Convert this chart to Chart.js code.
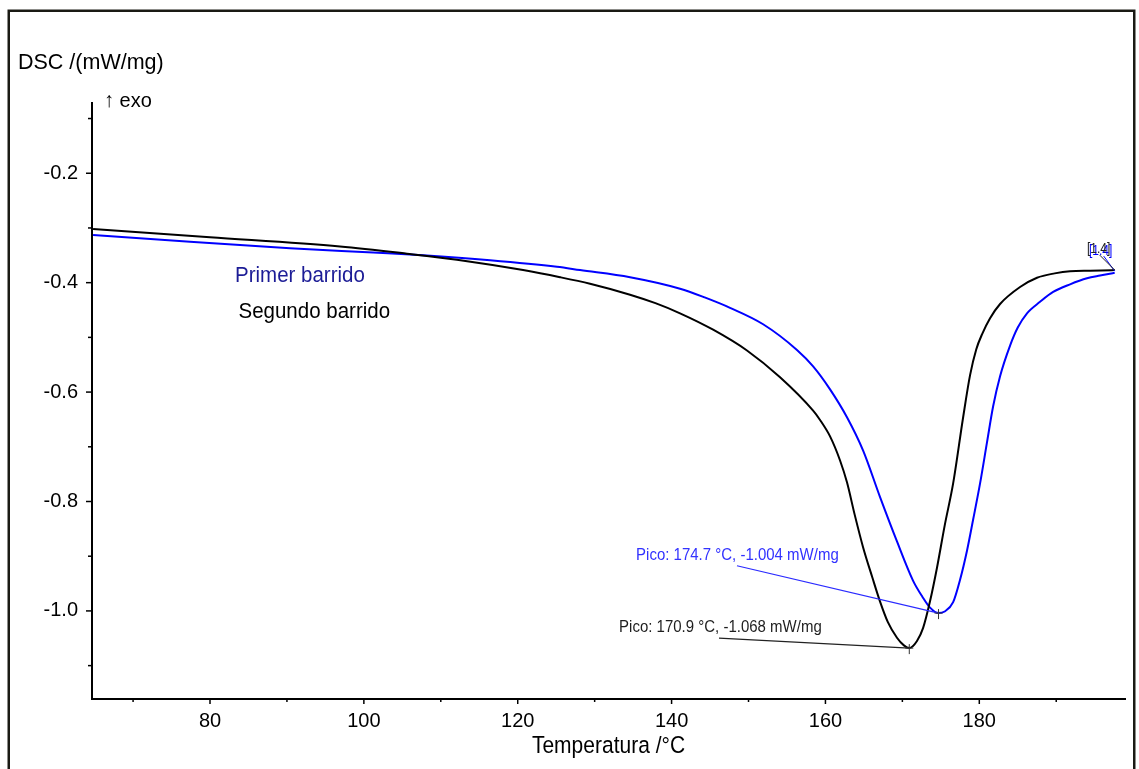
<!DOCTYPE html>
<html><head><meta charset="utf-8">
<script src="https://cdn.jsdelivr.net/npm/chart.js@4"></script>
<style>html,body{margin:0;padding:0;background:#fff;overflow:hidden}canvas{display:block}</style>
</head><body>
<canvas id="c" width="1139" height="769"></canvas>
<script>
// ---- data ----
const seriesNames = ['Primer barrido', 'Segundo barrido'];
const primerX = [64.8, 77.4, 90.4, 101.2, 107.7, 116.4, 125.1, 128.1, 134.6, 141.1, 144.3, 147.6, 151.9, 156.3, 158.4, 160.6, 162.8, 164.9, 167.1, 169.3, 171.4, 172.6, 173.6, 174.7, 175.5, 176.6, 177.5, 178.4, 179.2, 180.1, 181.0, 181.8, 182.7, 184.0, 185.0, 186.2, 187.9, 189.6, 191.8, 194.0, 195.7, 197.6];
const primerY = [-0.313, -0.325, -0.337, -0.345, -0.350, -0.359, -0.371, -0.377, -0.390, -0.411, -0.427, -0.446, -0.476, -0.523, -0.553, -0.595, -0.646, -0.707, -0.792, -0.873, -0.945, -0.974, -0.994, -1.004, -1.001, -0.984, -0.943, -0.890, -0.833, -0.767, -0.692, -0.626, -0.571, -0.515, -0.482, -0.456, -0.435, -0.417, -0.403, -0.392, -0.387, -0.382];
const segundoX = [64.8, 80.0, 96.9, 105.6, 112.1, 120.7, 125.5, 129.4, 134.6, 137.9, 141.1, 145.4, 149.8, 154.1, 158.4, 159.3, 160.6, 161.9, 162.8, 163.8, 164.9, 166.1, 167.1, 168.1, 169.3, 170.2, 170.9, 171.9, 172.7, 173.6, 174.5, 175.5, 176.6, 177.9, 178.8, 179.6, 180.4, 181.4, 182.7, 185.3, 187.5, 189.8, 191.8, 194.4, 197.6];
const segundoY = [-0.302, -0.317, -0.334, -0.347, -0.358, -0.377, -0.390, -0.402, -0.422, -0.4375, -0.456, -0.486, -0.524, -0.573, -0.634, -0.651, -0.681, -0.725, -0.765, -0.824, -0.884, -0.939, -0.983, -1.020, -1.049, -1.063, -1.068, -1.055, -1.031, -0.982, -0.921, -0.844, -0.767, -0.646, -0.569, -0.522, -0.493, -0.465, -0.439, -0.408, -0.391, -0.383, -0.379, -0.378, -0.377];
const peakX = [174.7, 170.9];   // Primer, Segundo
const peakY = [-1.004, -1.068];
const xTickLabels = [80, 100, 120, 140, 160, 180];
const xMinorTicks = [70, 90, 110, 130, 150, 170, 190];
const yTickLabels = [-0.2, -0.4, -0.6, -0.8, -1.0];
const yMinorTicks = [-0.1, -0.3, -0.5, -0.7, -0.9, -1.1];
const xTitle = 'Temperatura /°C';
const yTitle = 'DSC /(mW/mg)';
const exoLabel = '↑ exo';
const stepLabel = '[1.4]';

const FONT = '"Liberation Sans", Arial, Helvetica, sans-serif';
const BLUE = '#0000ff';

function txt(ctx, s, x, y, size, color, sy, align) {
  ctx.save();
  ctx.font = size + 'px ' + FONT;
  ctx.fillStyle = color;
  ctx.textAlign = align || 'left';
  ctx.textBaseline = 'middle';
  ctx.translate(x, y);
  ctx.scale(1, sy || 1);
  ctx.fillText(s, 0, 0);
  ctx.restore();
}
function seg(ctx, x1, y1, x2, y2, color, w) {
  ctx.save();
  ctx.strokeStyle = color; ctx.lineWidth = w;
  ctx.beginPath(); ctx.moveTo(x1, y1); ctx.lineTo(x2, y2); ctx.stroke();
  ctx.restore();
}
function pts(xs, ys) { return xs.map((v, i) => ({x: v, y: ys[i]})); }

const decor = {
  id: 'decor',
  afterDraw(chart) {
    const {ctx, chartArea: a} = chart;
    const X = chart.scales.x, Y = chart.scales.y;
    const px = v => X.getPixelForValue(v), py = v => Y.getPixelForValue(v);
    // outer frame
    ctx.save();
    ctx.strokeStyle = '#1a1a14'; ctx.lineWidth = 2.5;
    ctx.beginPath(); ctx.moveTo(8.75, 790); ctx.lineTo(8.75, 10.75); ctx.lineTo(1134.25, 10.75); ctx.lineTo(1134.25, 790); ctx.stroke();
    ctx.restore();
    // tick marks
    xTickLabels.forEach(v => seg(ctx, px(v), a.bottom, px(v), a.bottom + 5, '#000', 1.5));
    xMinorTicks.forEach(v => seg(ctx, px(v), a.bottom, px(v), a.bottom + 3, '#000', 1.5));
    yTickLabels.forEach(v => seg(ctx, a.left, py(v), a.left - 6, py(v), '#000', 1.5));
    yMinorTicks.forEach(v => seg(ctx, a.left, py(v), a.left - 4, py(v), '#000', 1.5));
    // titles
    txt(ctx, yTitle, 18, 63, 21.5, '#000', 1);
    txt(ctx, exoLabel, 104, 101, 20, '#000', 1.05);
    txt(ctx, xTitle, (a.left + a.right) / 2, 747, 21, '#000', 1.1, 'center');
    // series labels
    txt(ctx, seriesNames[0], px(83.25), py(-0.388), 20.5, '#1c1c96', 1.12);
    txt(ctx, seriesNames[1], px(83.7), py(-0.4535), 20.5, '#000', 1.12);
    // peak annotations
    const labBlue = 'Pico: ' + peakX[0].toFixed(1) + ' °C, ' + peakY[0].toFixed(3) + ' mW/mg';
    const labBlack = 'Pico: ' + peakX[1].toFixed(1) + ' °C, ' + peakY[1].toFixed(3) + ' mW/mg';
    txt(ctx, labBlue, px(135.38), py(-0.899), 15, '#3232ff', 1.08);
    seg(ctx, px(148.5), py(-0.9174), px(peakX[0]), py(peakY[0]), '#2a2aff', 1.2);
    txt(ctx, labBlack, px(133.17), py(-1.031), 15, '#1e1e1e', 1.08);
    seg(ctx, px(146.16), py(-1.0497), px(peakX[1]), py(peakY[1]), '#222', 1.2);
    // peak crosses
    for (let i = 0; i < 2; i++) {
      const cx = px(peakX[i]), cy = py(peakY[i]);
      seg(ctx, cx - 4, cy, cx + 4, cy, '#333', 1);
      seg(ctx, cx, cy - 4, cx, cy + 6, '#333', 1);
    }
    // step marker [1.4]
    const ex = px(segundoX[segundoX.length - 1]), ey = py(segundoY[segundoY.length - 1]);
    txt(ctx, stepLabel, px(194.0) + 2, py(-0.3387) + 2, 12, BLUE, 1.15);
    txt(ctx, stepLabel, px(194.0), py(-0.3387), 12, '#222', 1.15);
    seg(ctx, ex - 11, ey - 14, ex, ey + 1, BLUE, 1);
    seg(ctx, ex - 15, ey - 15, ex, ey, '#222', 1);
  }
};

new Chart(document.getElementById('c'), {
  type: 'line',
  data: {
    datasets: [
      {label: seriesNames[1], data: pts(segundoX, segundoY), borderColor: '#000', borderWidth: 2,
       pointRadius: 0, cubicInterpolationMode: 'monotone', fill: false},
      {label: seriesNames[0], data: pts(primerX, primerY), borderColor: BLUE, borderWidth: 2,
       pointRadius: 0, cubicInterpolationMode: 'monotone', fill: false}
    ]
  },
  options: {
    responsive: false,
    devicePixelRatio: 1,
    animation: false,
    events: [],
    layout: {padding: {left: 0, top: 103, right: 14, bottom: 0}},
    plugins: {legend: {display: false}, tooltip: {enabled: false}},
    scales: {
      x: {
        type: 'linear', min: 64.66, max: 198.94,
        grid: {display: false, drawTicks: false},
        border: {display: true, color: '#000', width: 2},
        ticks: {
          stepSize: 10, precision: 0, includeBounds: false, maxRotation: 0, autoSkip: false,
          padding: 10, color: '#000', font: {family: FONT, size: 20},
          callback: v => xTickLabels.some(t => Math.abs(t - v) < 1e-6) ? String(Math.round(v)) : ''
        },
        afterFit: s => { s.height = 70; }
      },
      y: {
        type: 'linear', min: -1.161, max: -0.0716,
        grid: {display: false, drawTicks: false},
        border: {display: true, color: '#000', width: 2},
        ticks: {
          stepSize: 0.1, precision: 1, includeBounds: false, autoSkip: false,
          padding: 14, color: '#000', font: {family: FONT, size: 20},
          callback: v => {
            const t = yTickLabels.find(t => Math.abs(t - v) < 1e-6);
            return t === undefined ? '' : t.toFixed(1);
          }
        },
        afterFit: s => { s.width = 92; }
      }
    }
  },
  plugins: [decor]
});
</script>
</body></html>
